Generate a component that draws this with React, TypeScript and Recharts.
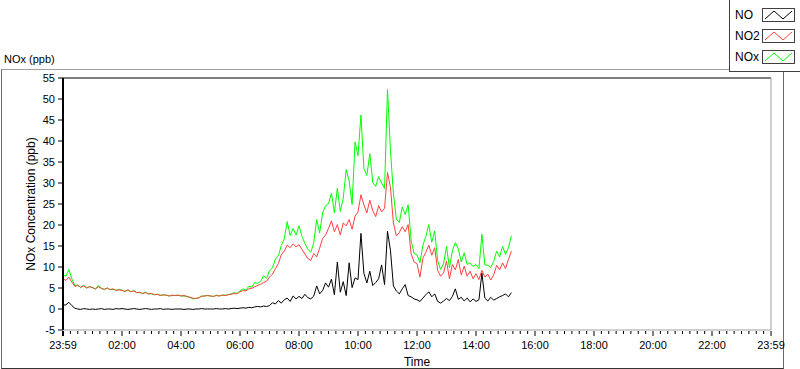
import React from 'react';
import { LineChart, Line, XAxis, YAxis, ReferenceLine, Legend } from 'recharts';

// samples every 6 minutes starting at 23:59
const STEP_HOURS = 0.1;

const noValues = [
  0.9, 1.0, 1.6, 0.8, 0.2, 0.0, -0.1, 0.1, 0.0, -0.1,
  0.0, -0.1, 0.0, 0.1, -0.1, 0.0, 0.0, -0.1, 0.1, 0.0,
  0.1, 0.0, -0.1, 0.0, 0.1, 0.0, -0.1, 0.0, 0.1, 0.0,
  -0.1, 0.0, 0.0, 0.1, -0.1, 0.0, 0.0, -0.1, 0.0, 0.0,
  0.0, -0.1, 0.0, 0.0, -0.1, 0.0, 0.0, 0.1, 0.0, 0.0,
  0.0, 0.0, 0.1, 0.0, 0.0, 0.1, 0.0, 0.1, 0.2, 0.1,
  0.2, 0.3, 0.2, 0.4, 0.3, 0.5, 0.6, 0.5, 0.7, 0.6,
  0.8, 1.5, 1.2, 2.0, 1.4, 2.2, 2.6, 1.8, 3.1, 2.4,
  3.0, 2.5, 3.5, 2.7, 2.4, 3.1, 5.5, 3.6, 4.4, 6.2,
  5.2, 7.1, 3.4, 11.2, 4.0, 6.5, 3.2, 11.0, 5.1, 7.4,
  7.0, 18.0, 8.5, 6.2, 9.0, 5.6, 6.3, 7.2, 10.5, 5.8,
  18.5, 14.0, 5.5, 4.3, 3.6, 4.8, 5.8, 3.2, 2.9, 2.4,
  2.2, 1.8, 2.6, 3.4, 4.1, 2.9, 3.6, 1.8, 1.4, 1.9,
  2.5, 2.0, 3.0, 4.8, 2.3, 2.8, 1.9, 2.6, 1.7, 2.4,
  1.8, 2.2, 8.5, 2.6, 1.9, 2.8, 2.1, 2.5, 2.9, 3.2,
  3.6, 2.9, 3.9,
];

const no2Values = [
  7.2, 6.8, 7.6, 6.4, 5.4, 5.6, 5.2, 5.5, 5.0, 5.3,
  5.1, 4.8, 5.3, 4.9, 4.7, 5.0, 4.6, 4.8, 4.4, 4.6,
  4.4, 4.2, 4.6, 4.1, 4.3, 3.9, 4.0, 3.7, 3.9, 3.6,
  3.7, 3.4, 3.5, 3.2, 3.4, 3.3, 3.1, 3.3, 3.2, 3.3,
  3.1, 3.2, 3.0, 2.8, 2.6, 2.5, 2.7, 3.0, 3.1, 3.2,
  3.1, 3.0, 3.2, 3.1, 3.3, 3.2, 3.4, 3.5, 3.7, 3.6,
  4.1, 4.4, 4.3, 4.8, 4.9, 5.3, 5.6, 5.9, 6.3, 6.6,
  7.6, 8.3, 9.6, 10.8, 12.9, 13.8, 15.2, 14.6, 15.5, 14.8,
  15.3, 14.2, 13.1, 12.0, 11.6, 13.2, 12.4, 14.5, 16.8, 17.6,
  19.2, 21.0, 18.4, 20.1, 17.6, 20.5, 19.8, 21.3, 19.0, 22.1,
  23.1, 27.2, 24.8, 22.9, 25.9, 23.4, 22.0, 24.6, 23.1, 24.0,
  32.5, 29.0, 20.5, 17.4, 18.2, 19.6, 18.4, 20.1, 13.2, 11.2,
  10.8, 7.6, 12.1, 13.5, 15.2, 12.8, 14.6, 9.2, 7.8, 8.6,
  11.4, 7.2, 10.6, 9.3, 11.8, 8.1, 10.2, 7.8, 9.0, 7.2,
  8.4, 7.0, 9.2, 7.6, 8.3, 6.9, 8.1, 10.4, 9.3, 11.0,
  9.6, 11.8, 13.8,
];

const noxValues = [
  8.2, 7.8, 9.4, 7.2, 5.6, 5.7, 5.1, 5.7, 5.0, 5.3,
  5.1, 4.7, 5.6, 5.0, 4.6, 5.0, 4.6, 4.7, 4.5, 4.6,
  4.5, 4.2, 4.5, 4.1, 4.4, 3.9, 3.9, 3.7, 4.0, 3.6,
  3.6, 3.4, 3.5, 3.3, 3.3, 3.3, 3.1, 3.2, 3.2, 3.3,
  3.1, 3.1, 3.0, 2.8, 2.4, 2.5, 2.6, 3.1, 3.1, 3.2,
  3.1, 3.0, 3.3, 3.1, 3.3, 3.3, 3.4, 3.6, 3.9, 3.7,
  4.3, 4.8, 4.5, 5.4, 5.2, 6.3, 6.1, 6.6, 7.9, 7.3,
  9.1, 9.8, 11.9, 12.7, 15.1, 16.7, 20.8, 17.5, 19.2, 17.6,
  19.8, 17.3, 15.6, 14.2, 13.5, 15.8, 21.3, 18.1, 22.9, 24.6,
  25.1, 27.6, 22.9, 28.8, 23.2, 26.4, 33.2, 30.5, 24.9, 39.8,
  36.5, 46.2, 33.4, 31.8, 37.0, 30.1, 29.2, 31.5, 30.0, 28.7,
  52.3, 37.8, 27.5, 21.4, 20.6, 24.3, 22.5, 24.8, 16.4, 13.2,
  12.9, 11.0, 15.2, 17.3, 20.1, 15.9, 18.6, 11.5, 9.4, 10.8,
  14.9, 9.8, 13.9, 15.8, 14.3, 11.2, 13.4, 10.6, 11.0, 10.1,
  10.6, 9.6, 17.8, 10.5, 10.4, 9.9, 11.3, 13.8, 12.4, 14.9,
  13.0, 14.6, 17.4,
];

const yTicks = [-5, 0, 5, 10, 15, 20, 25, 30, 35, 40, 45, 50, 55];
// major tick every 2 h, minor every 15 min
const xTicks = Array.from({ length: 97 }, (_, i) => i * 0.25);
const legendOrder = ['NO', 'NO2', 'NOx'];

const chartData = noValues.map((no, i) => ({
  t: i * STEP_HOURS,
  NO: no,
  NO2: no2Values[i],
  NOx: noxValues[i],
}));

const FONT = '"Liberation Sans", Arial, sans-serif';

const formatTime = (v: number) => {
  if (v === 0 || v === 24) return '23:59';
  const h = Math.round(v);
  return (h < 10 ? '0' + h : String(h)) + ':00';
};

const TimeTick = (props: any) => {
  const { x, y, payload } = props;
  const v = payload.value;
  const major = Math.abs(v / 2 - Math.round(v / 2)) < 1e-6;
  return (
    <g>
      <line
        x1={x}
        x2={x}
        y1={y + 1}
        y2={y + (major ? 6 : 4)}
        stroke="#000"
        strokeWidth={v === 0 ? 2 : 1}
      />
      {major && (
        <text x={x} y={y + 19} textAnchor="middle" fontSize={11} fill="#000" fontFamily={FONT}>
          {formatTime(v)}
        </text>
      )}
    </g>
  );
};

const LegendBox = ({ payload }: any) => (
  <div
    style={{
      width: 71,
      height: 72,
      boxSizing: 'border-box',
      borderLeft: '1px solid #404040',
      borderBottom: '1px solid #404040',
      background: '#fff',
      paddingTop: 4,
      fontFamily: FONT,
      fontSize: 12,
      color: '#000',
    }}
  >
    {legendOrder.map((name) => {
      const entry = (payload || []).find((p: any) => p.value === name);
      const color = entry ? entry.color : '#000';
      return (
        <div key={name} style={{ display: 'flex', alignItems: 'center', height: 21 }}>
          <span style={{ width: 32, paddingLeft: 5, boxSizing: 'border-box' }}>{name}</span>
          <svg width={33} height={14} style={{ display: 'block' }}>
            <rect x={0.5} y={0.5} width={32} height={13} fill="#fff" stroke="#404040" />
            <polyline points="3,11 12,3 21,11 30,3" fill="none" stroke={color} strokeWidth={1} />
          </svg>
        </div>
      );
    })}
  </div>
);

export default function App() {
  return (
    <div style={{ position: 'absolute', left: 0, top: 0, width: 800, height: 369, background: '#fff' }}>
      <div
        style={{
          position: 'absolute',
          left: 1,
          top: 69,
          width: 783,
          height: 300,
          boxSizing: 'border-box',
          borderTop: '1px solid #a0a0a0',
          borderLeft: '1px solid #696969',
          borderRight: '1px solid #696969',
          borderBottom: '1px solid #333',
        }}
      />
      <div
        style={{
          position: 'absolute',
          left: 4,
          top: 53,
          fontFamily: FONT,
          fontSize: 11,
          lineHeight: '13px',
          color: '#000',
        }}
      >
        NOx (ppb)
      </div>
      <LineChart
        width={800}
        height={369}
        data={chartData}
        margin={{ top: 78, right: 29, left: 3, bottom: 0 }}
        style={{ fontFamily: FONT }}
      >
        <XAxis
          dataKey="t"
          type="number"
          domain={[0, 24]}
          ticks={xTicks}
          interval={0}
          height={39}
          tickSize={0}
          tickMargin={0}
          tickLine={false}
          axisLine={{ stroke: '#a0a0a0' }}
          tick={<TimeTick />}
          label={{ value: 'Time', position: 'insideBottom', offset: 3, fontSize: 12, fill: '#000' }}
        />
        <YAxis
          type="number"
          domain={[-5, 55]}
          ticks={yTicks}
          interval={0}
          width={60}
          tickSize={5}
          tickMargin={3}
          axisLine={{ stroke: '#000', strokeWidth: 2 }}
          tickLine={{ stroke: '#000' }}
          tick={{ fontSize: 11, fill: '#000' }}
          label={{
            value: 'NOx Concentration (ppb)',
            angle: -90,
            position: 'center',
            dx: -2,
            fontSize: 12,
            fill: '#000',
          }}
        />
        <ReferenceLine y={55} stroke="#000" />
        <ReferenceLine x={24} stroke="#a0a0a0" />
        <Legend
          layout="vertical"
          align="center"
          verticalAlign="middle"
          content={<LegendBox />}
          wrapperStyle={{ top: 0, left: 729, width: 71, height: 72 }}
        />
        <Line
          type="linear"
          dataKey="NOx"
          name="NOx"
          stroke="#00ff00"
          strokeWidth={1}
          dot={false}
          isAnimationActive={false}
        />
        <Line
          type="linear"
          dataKey="NO2"
          name="NO2"
          stroke="#ff4040"
          strokeWidth={1}
          dot={false}
          isAnimationActive={false}
        />
        <Line
          type="linear"
          dataKey="NO"
          name="NO"
          stroke="#000"
          strokeWidth={1}
          dot={false}
          isAnimationActive={false}
        />
      </LineChart>
    </div>
  );
}
